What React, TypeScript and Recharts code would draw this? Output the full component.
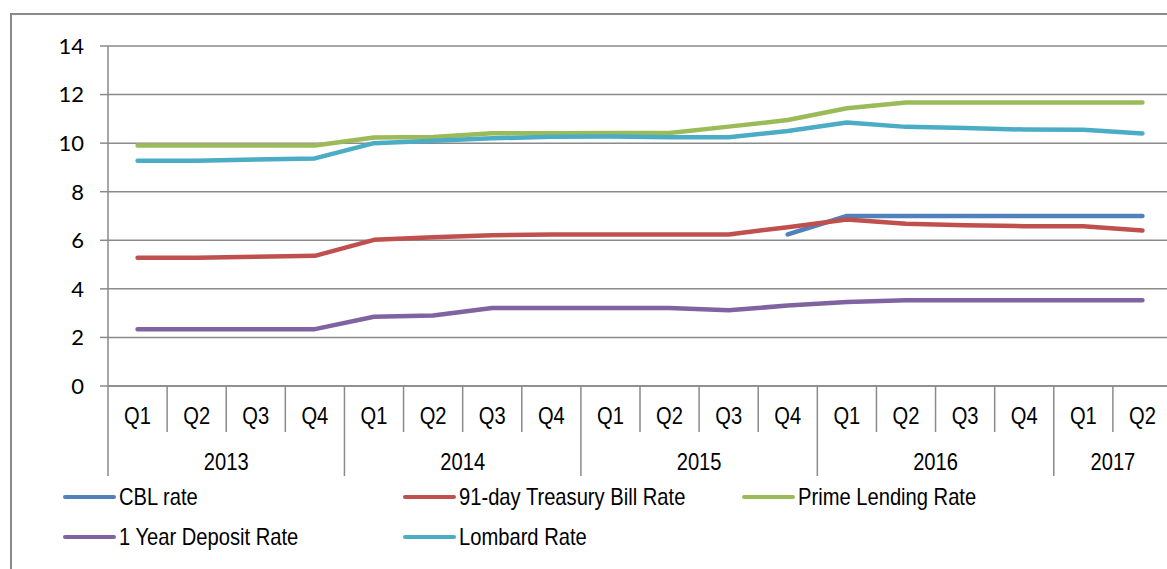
import { CartesianGrid, Legend, Line, LineChart, XAxis, YAxis } from "recharts";

// quarter / year labels for the two-level category axis
const quarters = ["Q1", "Q2", "Q3", "Q4", "Q1", "Q2", "Q3", "Q4", "Q1", "Q2", "Q3", "Q4", "Q1", "Q2", "Q3", "Q4", "Q1", "Q2"];
const years = ["2013", "2013", "2013", "2013", "2014", "2014", "2014", "2014", "2015", "2015", "2015", "2015", "2016", "2016", "2016", "2016", "2017", "2017"];

const cblRate = [null, null, null, null, null, null, null, null, null, null, null, 6.24, 7.0, 7.0, 7.0, 7.0, 7.0, 7.0];
const treasuryRate = [5.28, 5.28, 5.32, 5.36, 6.02, 6.13, 6.21, 6.24, 6.24, 6.24, 6.24, 6.54, 6.86, 6.68, 6.62, 6.58, 6.58, 6.4];
const primeRate = [9.9, 9.9, 9.9, 9.9, 10.23, 10.25, 10.41, 10.41, 10.42, 10.42, 10.68, 10.95, 11.44, 11.67, 11.67, 11.67, 11.67, 11.67];
const depositRate = [2.34, 2.34, 2.34, 2.34, 2.85, 2.9, 3.21, 3.21, 3.21, 3.21, 3.12, 3.31, 3.46, 3.53, 3.53, 3.53, 3.53, 3.53];
const lombardRate = [9.28, 9.28, 9.33, 9.37, 10.0, 10.1, 10.2, 10.26, 10.27, 10.24, 10.24, 10.5, 10.85, 10.67, 10.62, 10.56, 10.55, 10.4];

const yTicks = [0, 2, 4, 6, 8, 10, 12, 14];

const series = [
  { key: "cbl", name: "CBL rate", color: "#4F81BD", values: cblRate },
  { key: "tbill", name: "91-day Treasury Bill Rate", color: "#C0504D", values: treasuryRate },
  { key: "prime", name: "Prime Lending Rate", color: "#9BBB59", values: primeRate },
  { key: "deposit", name: "1 Year Deposit Rate", color: "#8064A2", values: depositRate },
  { key: "lombard", name: "Lombard Rate", color: "#4BACC6", values: lombardRate },
];

const data = quarters.map((q, i) => {
  const row: Record<string, any> = { q, year: years[i], idx: i };
  series.forEach((s) => (row[s.key] = s.values[i]));
  return row;
});

// layout
const CHART_W = 1190;
const CHART_H = 569;
const Y_AXIS_W = 108;
const MARGIN = { top: 46, right: 18, left: 0, bottom: 0 };
const X_AXIS_H = 91;
const LEGEND_H = 92;
const PLOT_BOTTOM = CHART_H - MARGIN.bottom - LEGEND_H - X_AXIS_H;
const STEP = (CHART_W - MARGIN.left - MARGIN.right - Y_AXIS_W) / quarters.length;
const GRID = "#8a8a8a";
// no Arial Narrow in the sandbox: squeeze Liberation Sans horizontally instead
const SANS = "'Liberation Sans', Arial, sans-serif";
const SQUEEZE = 0.84;

function NarrowText({ x, y, children }: { x: number; y: number; children: any }) {
  return (
    <g transform={`translate(${x},${y}) scale(${SQUEEZE},1)`}>
      <text x={0} y={0} textAnchor="middle" fontFamily={SANS} fontSize={24} fill="#000">
        {children}
      </text>
    </g>
  );
}

function CategoryTick(props: any) {
  const { x, payload } = props;
  const i = payload.index;
  const yearStart = i === 0 || years[i] !== years[i - 1];
  const isLast = i === quarters.length - 1;
  let yearLabel = null;
  if (yearStart) {
    const n = years.filter((y) => y === years[i]).length;
    yearLabel = (
      <NarrowText x={x + ((n - 1) * STEP) / 2} y={PLOT_BOTTOM + 84}>
        {years[i]}
      </NarrowText>
    );
  }
  return (
    <g>
      <line x1={x - STEP / 2} x2={x - STEP / 2} y1={PLOT_BOTTOM} y2={PLOT_BOTTOM + (yearStart ? 90 : 46)} stroke={GRID} strokeWidth={1.5} />
      {isLast && <line x1={x + STEP / 2} x2={x + STEP / 2} y1={PLOT_BOTTOM} y2={PLOT_BOTTOM + 90} stroke={GRID} strokeWidth={1.5} />}
      <NarrowText x={x} y={PLOT_BOTTOM + 38}>
        {quarters[i]}
      </NarrowText>
      {yearLabel}
    </g>
  );
}

const legendCols = [63, 403, 742];

function ChartLegend() {
  return (
    <div style={{ position: "relative", width: 1167, height: LEGEND_H }}>
      {series.map((s, i) => (
        <div
          key={s.key}
          style={{
            position: "absolute",
            left: legendCols[i % 3],
            top: (i < 3 ? 20 : 60) - 15,
            height: 30,
            display: "flex",
            alignItems: "center",
            whiteSpace: "nowrap",
          }}
        >
          <span style={{ display: "inline-block", width: 53, height: 4, borderRadius: 2, background: s.color }} />
          <span
            style={{
              display: "inline-block",
              marginLeft: 3,
              fontFamily: SANS,
              fontSize: 24,
              color: "#000",
              lineHeight: "30px",
              transform: `scaleX(${SQUEEZE})`,
              transformOrigin: "left center",
            }}
          >
            {s.name}
          </span>
        </div>
      ))}
    </div>
  );
}

export default function App() {
  return (
    <div style={{ position: "absolute", left: 0, top: 0, width: 1167, height: 569, overflow: "hidden", background: "#fff" }}>
      <div style={{ position: "absolute", left: 10, top: 13, width: 1300, height: 700, border: `2px solid ${GRID}` }} />
      <div style={{ position: "absolute", left: 0, top: 0 }}>
        <LineChart width={CHART_W} height={CHART_H} data={data} margin={MARGIN}>
          <CartesianGrid vertical={false} stroke={GRID} strokeWidth={1.5} />
          <XAxis
            dataKey="idx"
            type="category"
            interval={0}
            height={X_AXIS_H}
            padding={{ left: STEP / 2, right: STEP / 2 }}
            axisLine={{ stroke: GRID, strokeWidth: 1.5 }}
            tickLine={false}
            tick={(p: any) => <CategoryTick {...p} />}
          />
          <YAxis
            width={Y_AXIS_W}
            domain={[0, 14]}
            ticks={yTicks}
            interval={0}
            axisLine={{ stroke: GRID, strokeWidth: 1.5 }}
            tickLine={{ stroke: GRID, strokeWidth: 1.5 }}
            tickSize={8}
            tickMargin={16}
            tick={{ fontFamily: "Lato, 'Liberation Sans', sans-serif", fontSize: 22, fill: "#000" }}
          />
          <Legend
            verticalAlign="bottom"
            content={() => <ChartLegend />}
            wrapperStyle={{ left: 0, width: 1167, height: LEGEND_H }}
          />
          {series.map((s) => (
            <Line
              key={s.key}
              dataKey={s.key}
              name={s.name}
              stroke={s.color}
              strokeWidth={4.5}
              strokeLinecap="round"
              strokeLinejoin="round"
              dot={false}
              activeDot={false}
              isAnimationActive={false}
            />
          ))}
        </LineChart>
      </div>
    </div>
  );
}
